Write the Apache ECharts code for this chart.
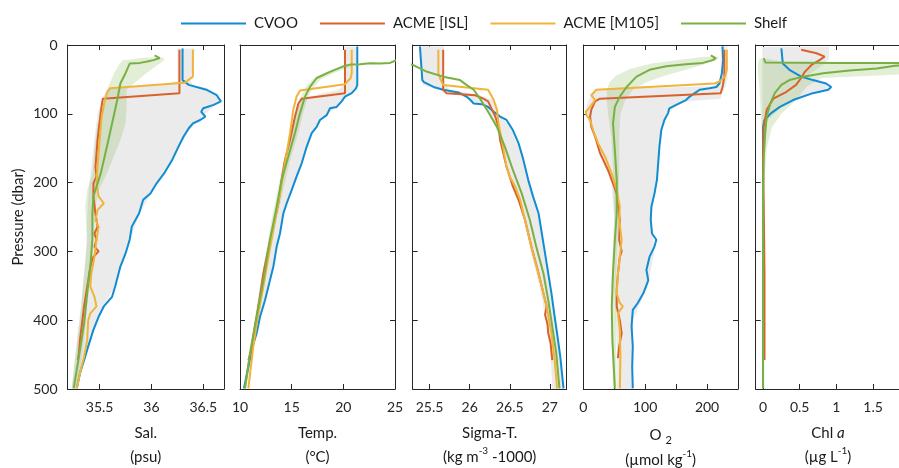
<!DOCTYPE html>
<html><head><meta charset="utf-8">
<script src="https://cdn.jsdelivr.net/npm/echarts@6/dist/echarts.min.js"></script>
<style>html,body{margin:0;padding:0;background:#fff}#c{width:899px;height:468px}</style>
</head><body><div id="c"></div>
<script>
// ---------------- DATA ----------------
const stationNames = ['CVOO', 'ACME [ISL]', 'ACME [M105]', 'Shelf'];
const pressureTicks = [0, 100, 200, 300, 400, 500];

// Salinity (psu)
const cvooSalP = [5,51,58,65,73,82,87,92,97,104,109,114,121,133,148,167,187,201,216,225,245,264,283,303,322,351,366,380,395,414,438,458,477,499];
const cvooSal  = [36.30,36.30,36.36,36.53,36.63,36.67,36.60,36.50,36.48,36.52,36.47,36.40,36.36,36.31,36.26,36.20,36.12,36.05,35.99,35.92,35.88,35.81,35.79,35.75,35.70,35.65,35.62,35.54,35.49,35.44,35.39,35.35,35.31,35.28];
const islSalP  = [7,70,78,80,99,138,177,191,201,220,245,264,274,283,293,300,308,322,342,361,380,405,429,448,458];
const islSal   = [36.27,36.27,35.53,35.52,35.51,35.48,35.46,35.47,35.44,35.44,35.46,35.48,35.45,35.47,35.45,35.49,35.44,35.41,35.39,35.37,35.35,35.33,35.31,35.30,35.29];
const m105SalP = [7,46,55,63,70,80,104,138,177,201,220,230,240,254,264,283,308,332,351,366,380,390,400,429,453,477,499];
const m105Sal  = [36.40,36.40,36.32,35.60,35.57,35.55,35.52,35.50,35.48,35.47,35.49,35.54,35.48,35.46,35.49,35.47,35.45,35.42,35.41,35.45,35.47,35.41,35.39,35.38,35.35,35.31,35.28];
const shelfSalP = [15,19,22,24,26,27,41,56,80,114,148,187,220,245,283,322,361,405,453,499];
const shelfSal  = [36.03,36.08,36.02,35.96,35.89,35.79,35.75,35.70,35.67,35.62,35.57,35.51,35.44,35.43,35.43,35.41,35.38,35.35,35.30,35.25];
const envSalP  = [5,52,58,62,65,80,100,125,150,175,200,250,300,350,400,450,500];
const envSalLo = [36.25,36.25,36.10,35.62,35.57,35.52,35.48,35.46,35.44,35.42,35.40,35.38,35.37,35.34,35.31,35.27,35.23];
const envSalHi = [36.42,36.38,36.40,36.53,36.55,36.67,36.52,36.36,36.26,36.17,36.05,35.87,35.76,35.65,35.47,35.37,35.28];
const shelfEnvSalP  = [18,22,30,41,65,90,114,138,187,211,235,283,332,380,429,499];
const shelfEnvSalLo = [35.95,35.72,35.68,35.64,35.57,35.54,35.48,35.46,35.43,35.38,35.36,35.38,35.35,35.32,35.28,35.23];
const shelfEnvSalHi = [36.12,36.12,36.05,35.95,35.76,35.76,35.75,35.70,35.57,35.49,35.46,35.44,35.42,35.38,35.35,35.29];
const salTicks = [35.5, 36, 36.5];

// Temperature (°C)
const cvooTempP = [2,58,63,70,75,82,90,92,102,109,119,128,148,172,191,211,230,245,274,293,322,342,371,395,419,443,468,499];
const cvooTemp  = [21.35,21.35,21.23,20.81,20.16,19.84,19.35,18.71,18.39,17.74,17.42,16.94,16.45,15.97,15.48,15.00,14.52,14.19,13.87,13.55,13.23,12.90,12.42,11.94,11.61,11.13,10.81,10.39];
const islTempP  = [7,70,78,85,104,138,167,196,230,264,303,332,371,409,448,458];
const islTemp   = [20.16,20.16,15.97,15.65,15.32,14.84,14.35,14.03,13.71,13.23,12.65,12.26,11.87,11.45,11.03,10.81];
const m105TempP = [7,41,48,57,66,75,94,128,157,216,254,308,351,390,438,499];
const m105Temp  = [20.81,20.81,20.71,20.16,15.81,15.48,15.16,14.84,14.52,13.87,13.39,12.74,12.26,11.77,11.29,10.81];
const shelfTempP = [21,26,27,26.5,28,28.5,31,39,48,61,75,99,128,162,196,235,283,342,395,448,499];
const shelfTemp  = [25.3,24.52,23.55,22.58,21.61,20.65,20.0,18.71,17.42,16.77,16.29,15.81,15.32,14.68,14.03,13.55,12.90,12.26,11.61,10.97,10.48];
const envTempP  = [3,58,65,70,78,90,110,130,150,175,200,250,300,350,400,450,500];
const envTempLo = [20.1,20.1,19.5,18.0,16.0,15.6,15.3,14.9,14.6,14.3,14.0,13.4,12.7,12.1,11.5,10.9,10.3];
const envTempHi = [21.4,21.4,21.1,20.8,20.0,19.35,17.7,16.9,16.4,15.9,15.3,14.2,13.5,12.8,11.85,11.1,10.4];
const shelfEnvTempP  = [30,40,50,60,75,100,130,170,250,350,500];
const shelfEnvTempLo = [19.8,18.2,17.0,16.4,15.9,15.4,14.9,14.2,13.1,11.95,10.3];
const shelfEnvTempHi = [21.0,19.2,17.8,17.2,16.6,16.1,15.6,14.8,13.6,12.35,10.6];
const tempTicks = [10, 15, 20, 25];

// Sigma-T (kg m-3 - 1000)
const cvooSigP = [2,51,54,61,65,69,75,80,85,86,90,97,104,109,124,143,167,196,220,245,274,303,332,361,395,419,453,499];
const cvooSig  = [25.38,25.41,25.43,25.55,25.67,25.86,25.96,26.01,26.05,26.15,26.23,26.30,26.38,26.46,26.54,26.61,26.67,26.73,26.79,26.86,26.90,26.94,26.98,27.02,27.06,27.09,27.13,27.17];
const islSigP  = [7,65,70,73,78,82,104,119,138,177,206,225,254,293,332,361,380,392,405,419,434,458];
const islSig   = [25.67,25.67,25.71,26.07,26.17,26.23,26.32,26.36,26.38,26.46,26.54,26.61,26.69,26.77,26.86,26.92,26.96,26.94,26.97,26.98,27.01,27.03];
const m105SigP = [7,41,48,58,65,80,94,114,138,177,191,206,225,264,303,342,380,419,458,499];
const m105Sig  = [25.61,25.61,25.63,25.67,26.23,26.30,26.34,26.36,26.40,26.46,26.50,26.57,26.63,26.71,26.79,26.88,26.96,27.02,27.06,27.09];
const shelfSigP = [26,29,39,46,51,58,65,78,97,119,148,182,216,254,293,332,371,409,448,499];
const shelfSig  = [25.20,25.29,25.47,25.67,25.88,25.96,26.05,26.13,26.23,26.34,26.44,26.54,26.65,26.75,26.83,26.92,26.98,27.03,27.08,27.12];
const envSigP  = [2,50,58,65,72,80,90,100,120,150,200,250,300,350,400,450,500];
const envSigLo = [25.38,25.40,25.42,25.62,25.88,26.00,26.20,26.24,26.33,26.43,26.51,26.67,26.76,26.87,26.95,27.01,27.03];
const envSigHi = [25.68,25.68,25.70,25.75,26.10,26.30,26.34,26.36,26.51,26.61,26.75,26.86,26.94,27.01,27.07,27.13,27.18];
const sigTicks = [25.5, 26, 26.5, 27];

// Oxygen (µmol kg-1)
const cvooO2P = [2,22,41,56,61,63,65,70,75,80,87,92,99,109,124,148,172,196,216,235,254,274,283,293,308,327,342,361,375,385,409,438,468,499];
const cvooO2  = [225,226,224,220,215,204,188,180,172,166,150,139,137,131,126,123,121,119,115,110,109,111,118,115,107,102,105,97,88,80,78,80,79,80];
const islO2P  = [7,46,61,70,78,82,94,104,119,133,157,182,201,216,230,254,283,300,308,332,356,380,400,419,438,455];
const islO2   = [228,228,225,222,27,19,13,11,13,19,27,40,48,54,56,59,58,62,59,56,54,54,59,62,58,56];
const m105O2P = [7,36,46,53,56,65,73,80,90,97,102,109,124,143,162,187,211,235,254,283,308,332,361,375,380,390,414,453,499];
const m105O2  = [232,232,229,220,212,21,13,19,11,4,5,11,16,24,35,46,54,59,58,62,59,56,54,59,64,56,59,60,59];
const shelfO2P = [15,19,22,26,28,31,36,46,61,75,90,114,153,196,245,283,332,380,429,499];
const shelfO2  = [206,214,209,193,166,134,107,86,70,59,51,48,51,54,54,51,48,46,47,51];
const envO2P  = [2,50,60,64,70,78,82,90,100,120,150,200,250,300,350,400,450,500];
const envO2Lo = [222,222,210,25,12,10,8,5,4,12,25,45,50,52,50,52,55,55];
const envO2Hi = [233,233,230,228,224,222,165,148,137,128,123,118,110,115,104,80,80,80];
const shelfEnvO2P  = [17,22,27,35,45,55,65,80,100,130,180,250,350,500];
const shelfEnvO2Lo = [195,150,110,75,52,42,38,38,40,45,48,50,45,48];
const shelfEnvO2Hi = [220,215,200,170,130,100,80,68,60,58,58,57,52,54];
const o2Ticks = [0, 50, 100, 150, 200, 250];
const o2Labels = [0, 100, 200];

// Chlorophyll a (µg L-1)
const cvooChlP = [5,27,36,46,51,56,61,65,70,80,90,99,109,119,138,200,300,400,499];
const cvooChl  = [0.25,0.27,0.36,0.52,0.68,0.86,0.93,0.89,0.68,0.41,0.23,0.11,0.02,0.0,0.0,0.0,0.0,0.0,0.0];
const islChlP  = [7,12,17,22,29,39,48,58,68,78,94,119,162,235,332,458];
const islChl   = [0.52,0.73,0.84,0.77,0.66,0.57,0.52,0.45,0.32,0.14,0.05,0.01,0.0,0.01,0.02,0.02];
const shelfChlP = [19,25.5,26,26.5,28,30,34,37,41,46,51,58,70,85,104,128,162,211,300,400,499];
const shelfChl  = [0.01,0.03,1.0,2.4,2.1,1.8,1.55,1.18,0.82,0.55,0.36,0.25,0.16,0.10,0.05,0.03,0.01,0.0,0.0,0.0,0.0];
const envChlP  = [3,20,30,45,52,58,65,75,90,110,130];
const envChlLo = [-0.01,-0.01,-0.01,-0.01,-0.01,-0.01,-0.01,-0.01,-0.01,-0.01,-0.01];
const envChlHi = [0.9,0.9,0.8,0.6,0.75,0.93,0.9,0.55,0.25,0.06,0.01];
const shelfEnvChlP  = [20,25,27,35,42,48,60,80,100,120,150,200];
const shelfEnvChlLo = [-0.05,-0.06,-0.07,-0.07,-0.07,-0.06,-0.05,-0.04,-0.03,-0.02,-0.01,0];
const shelfEnvChlHi = [0.06,0.3,2.5,2.5,2.0,0.8,0.6,0.45,0.25,0.12,0.05,0.02];
const chlTicks = [0, 0.5, 1, 1.5, 2];

// ---------------- STYLE / LAYOUT ----------------
const FONT = 'Lato, "Open Sans", "Noto Sans", sans-serif';
const AX = '#262626';
const colors = { 'CVOO': '#118cd2', 'ACME [ISL]': '#d9622b', 'ACME [M105]': '#f0b43a', 'Shelf': '#79b043' };
const GRAY = '#ebebeb';
const GREEN_ENV = 'rgba(121,176,67,0.22)';
const TOP = 45, H = 344, CW = 899;

const panels = [
  { l: 67.5, r: 224, min: 35.19, max: 36.70, ticks: salTicks, labels: salTicks,
    lines: [[cvooSal, cvooSalP], [islSal, islSalP], [m105Sal, m105SalP], [shelfSal, shelfSalP]],
    env: [envSalLo, envSalHi, envSalP], senv: [shelfEnvSalLo, shelfEnvSalHi, shelfEnvSalP] },
  { l: 240, r: 395, min: 10, max: 25, ticks: tempTicks, labels: tempTicks,
    lines: [[cvooTemp, cvooTempP], [islTemp, islTempP], [m105Temp, m105TempP], [shelfTemp, shelfTempP]],
    env: [envTempLo, envTempHi, envTempP], senv: [shelfEnvTempLo, shelfEnvTempHi, shelfEnvTempP] },
  { l: 412.7, r: 566.7, min: 25.29, max: 27.21, ticks: sigTicks, labels: sigTicks,
    lines: [[cvooSig, cvooSigP], [islSig, islSigP], [m105Sig, m105SigP], [shelfSig, shelfSigP]],
    env: [envSigLo, envSigHi, envSigP], senv: null },
  { l: 583.3, r: 738, min: 0, max: 250, ticks: o2Ticks, labels: o2Labels,
    lines: [[cvooO2, cvooO2P], [islO2, islO2P], [m105O2, m105O2P], [shelfO2, shelfO2P]],
    env: [envO2Lo, envO2Hi, envO2P], senv: [shelfEnvO2Lo, shelfEnvO2Hi, shelfEnvO2P] },
  { l: 755.7, r: 909.7, min: -0.1, max: 2.0, ticks: chlTicks, labels: chlTicks,
    lines: [[cvooChl, cvooChlP], [islChl, islChlP], null, [shelfChl, shelfChlP]],
    env: [envChlLo, envChlHi, envChlP], senv: [shelfEnvChlLo, shelfEnvChlHi, shelfEnvChlP] }
];

const grid = [], xAxis = [], yAxis = [], series = [];

function bandSeries(i, lo, hi, P, fill, z) {
  return {
    type: 'custom', xAxisIndex: 2 * i, yAxisIndex: 2 * i, silent: true, clip: true, z: z,
    data: P.map((p, k) => [lo[k], hi[k], p]),
    encode: { x: [0, 1], y: 2 },
    renderItem: function (params, api) {
      if (params.dataIndex !== 0) return null;
      const pts = [];
      for (let k = 0; k < P.length; k++) pts.push(api.coord([lo[k], P[k]]));
      for (let k = P.length - 1; k >= 0; k--) pts.push(api.coord([hi[k], P[k]]));
      return { type: 'polygon', shape: { points: pts }, style: { fill: fill } };
    }
  };
}

panels.forEach((pn, i) => {
  grid.push({ left: pn.l, top: TOP, right: CW - pn.r, height: H, containLabel: false, outerBoundsMode: 'none' });
  const labelVals = pn.labels;
  const tickCommon = { show: true, inside: true, length: 5, lineStyle: { color: AX, width: 1 }, customValues: pn.ticks };
  xAxis.push({
    type: 'value', gridIndex: i, position: 'bottom', min: pn.min, max: pn.max,
    axisLine: { show: true, onZero: false, lineStyle: { color: AX, width: 1 } },
    axisTick: tickCommon,
    axisLabel: { show: true, customValues: labelVals, margin: 11, color: AX, fontSize: 14, fontFamily: FONT,
                 showMinLabel: true, showMaxLabel: true },
    splitLine: { show: false }
  });
  xAxis.push({
    type: 'value', gridIndex: i, position: 'top', min: pn.min, max: pn.max,
    axisLine: { show: true, onZero: false, lineStyle: { color: AX, width: 1 } },
    axisTick: tickCommon,
    axisLabel: { show: false },
    splitLine: { show: false }
  });
  yAxis.push({
    type: 'value', gridIndex: i, position: 'left', inverse: true, min: 0, max: 500, interval: 100,
    axisLine: { show: true, onZero: false, lineStyle: { color: AX, width: 1 } },
    axisTick: { show: true, inside: true, length: 5, lineStyle: { color: AX } },
    axisLabel: { show: i === 0, margin: 10, color: AX, fontSize: 14, fontFamily: FONT },
    splitLine: { show: false }
  });
  yAxis.push({
    type: 'value', gridIndex: i, position: 'right', inverse: true, min: 0, max: 500, interval: 100,
    axisLine: { show: true, onZero: false, lineStyle: { color: AX, width: 1 } },
    axisTick: { show: true, inside: true, length: 5, lineStyle: { color: AX } },
    axisLabel: { show: false },
    splitLine: { show: false }
  });
  series.push(bandSeries(i, pn.env[0], pn.env[1], pn.env[2], GRAY, 1));
  if (pn.senv) series.push(bandSeries(i, pn.senv[0], pn.senv[1], pn.senv[2], GREEN_ENV, 2));
  pn.lines.forEach((ln, s) => {
    if (!ln) return;
    const name = stationNames[s];
    series.push({
      name: name, type: 'line', xAxisIndex: 2 * i, yAxisIndex: 2 * i,
      data: ln[1].map((p, k) => [ln[0][k], p]),
      showSymbol: false, symbol: 'none', clip: true, z: 3 + s,
      lineStyle: { color: colors[name], width: 2 }, itemStyle: { color: colors[name] },
      emphasis: { disabled: true }, animation: false
    });
  });
});

const centers = panels.map(p => (p.l + p.r) / 2);
const titleStyle = { font: '15px ' + FONT, fill: '#1a1a1a', align: 'center', verticalAlign: 'middle' };
const rich = {
  n: { fontSize: 15, fontFamily: FONT, fill: '#1a1a1a', lineHeight: 22 },
  sup: { fontSize: 10, fontFamily: FONT, fill: '#1a1a1a', lineHeight: 12, verticalAlign: 'top' },
  sub: { fontSize: 11, fontFamily: FONT, fill: '#1a1a1a', lineHeight: 12, verticalAlign: 'bottom' },
  it: { fontSize: 15, fontFamily: FONT, fill: '#1a1a1a', fontStyle: 'italic', lineHeight: 22 }
};
function txt(x, y, text) {
  return { type: 'text', x: x, y: y, silent: true,
    style: Object.assign({}, titleStyle, { text: text, rich: rich }) };
}
const graphics = [
  txt(centers[0], 433, '{n|Sal.}'), txt(centers[0], 457, '{n|(psu)}'),
  txt(centers[1], 433, '{n|Temp.}'), txt(centers[1], 457, '{n|(°C)}'),
  txt(centers[2], 433, '{n|Sigma-T.}'), txt(centers[2], 457, '{n|(kg m}{sup|-3}{n| -1000)}'),
  txt(centers[3], 435, '{n|O }{sub|2}'), txt(centers[3], 460, '{n|(µmol kg}{sup|-1}{n|)}'),
  txt(828, 433, '{n|Chl }{it|a}'), txt(828, 457, '{n|(µg L}{sup|-1}{n|)}'),
  { type: 'text', x: 18, y: 217, rotation: Math.PI / 2, silent: true,
    style: { text: 'Pressure (dbar)', font: '15px ' + FONT, fill: '#1a1a1a', align: 'center', verticalAlign: 'middle' } }
];

const chart = echarts.init(document.getElementById('c'), null, { renderer: 'canvas' });
chart.setOption({
  animation: false,
  backgroundColor: '#ffffff',
  legend: {
    data: stationNames, top: 11, left: 176, itemWidth: 65, itemHeight: 2, itemGap: 22, icon: 'rect',
    textStyle: { fontFamily: FONT, fontSize: 15, color: '#1a1a1a', padding: [0, 0, 0, 3] },
    selectedMode: false
  },
  grid: grid, xAxis: xAxis, yAxis: yAxis, series: series,
  graphic: graphics
});
</script></body></html>
